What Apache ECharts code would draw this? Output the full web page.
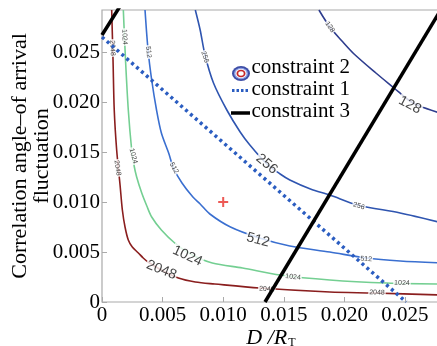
<!DOCTYPE html>
<html>
<head>
<meta charset="utf-8">
<script src="https://cdn.jsdelivr.net/npm/echarts@6/dist/echarts.min.js"></script>
<style>
html,body{margin:0;padding:0;background:#fff;}
#chart{width:437px;height:346px;}
</style>
</head>
<body>
<div id="chart"></div>
<script>
// contour lines, points are [D/R_T, angle]
var c128 = [[0.0179,0.0292],[0.0188,0.0275],[0.0198,0.0261],[0.0208,0.0248],[0.0226,0.0229],[0.0241,0.0214],[0.0254,0.0201],[0.0262,0.0196],[0.0281,0.0188]];
var c256 = [[0.0077,0.0292],[0.0081,0.0272],[0.0085,0.0247],[0.0092,0.0219],[0.0103,0.0192],[0.0114,0.0170],[0.0122,0.0157],[0.0136,0.0138],[0.0147,0.0128],[0.0155,0.0122],[0.0172,0.0113],[0.0188,0.0107],[0.0211,0.0097],[0.0246,0.0089],[0.0281,0.0079]];
var c512 = [[0.00355,0.0292],[0.0038,0.0252],[0.0041,0.0222],[0.0045,0.0192],[0.0049,0.0169],[0.0055,0.0149],[0.0059,0.0134],[0.0066,0.0119],[0.0075,0.0105],[0.0081,0.0098],[0.0089,0.0088],[0.0106,0.0075],[0.0130,0.0064],[0.0155,0.0056],[0.0188,0.0050],[0.0218,0.0044],[0.0246,0.0041],[0.0281,0.0039]];
var c1024 = [[0.00176,0.0292],[0.00194,0.0242],[0.00217,0.0192],[0.00245,0.0152],[0.00262,0.0138],[0.00286,0.0125],[0.00328,0.0109],[0.0037,0.0096],[0.0041,0.0085],[0.0049,0.0072],[0.0060,0.0059],[0.0073,0.0048],[0.0091,0.0039],[0.0116,0.0034],[0.0147,0.0027],[0.0188,0.0022],[0.0235,0.0019],[0.0281,0.0018]];
var c2048 = [[0.0008,0.0292],[0.00091,0.0242],[0.00101,0.0192],[0.00121,0.0152],[0.00149,0.0117],[0.00168,0.0092],[0.0019,0.0075],[0.00217,0.0062],[0.0025,0.0055],[0.0030,0.0049],[0.0034,0.0044],[0.0038,0.0040],[0.0049,0.0032],[0.0063,0.0024],[0.0077,0.0020],[0.0093,0.0018],[0.0130,0.0014],[0.0188,0.0010],[0.0224,0.0009],[0.0281,0.0007]];

// constraint lines
var constraint1 = [[0,0.0265],[0.0251,0]];
var constraint3 = [[0.01345,0],[0.0279,0.0291]];
var constraint3b = [[0,0.0267],[0.0015,0.0296]];
var target = [[0.010,0.010]];

// contour labels: [x, y, text]
var bigLabels = [[0.02541,0.0197,'128'],[0.01359,0.0138,'256'],[0.01287,0.0062,'512'],[0.00705,0.0046,'1024'],[0.00490,0.0032,'2048']];
var bigRot = [-28,-40,-15,-25,-22];
var smallLabels = [[0.00087,0.0254,'2048'],[0.00128,0.0134,'2048'],[0.00186,0.0265,'1024'],[0.00258,0.0146,'1024'],[0.00384,0.0250,'512'],[0.00594,0.0134,'512'],[0.0085,0.0245,'256'],[0.0188,0.0275,'128'],[0.0212,0.0096,'256'],[0.0218,0.0043,'512'],[0.01576,0.0025,'1024'],[0.02475,0.0019,'1024'],[0.0136,0.0013,'2048'],[0.02269,0.00095,'2048']];
var smallRot = [-88,-82,-87,-75,-84,-63,-72,-55,-15,-5,-6,-2,-4,-2];

var tickLabels = ['0','0.005','0.010','0.015','0.020','0.025'];

var chart = echarts.init(document.getElementById('chart'));

function tickFmt(v){
    var k = Math.round(v / 0.005);
    if (Math.abs(k * 0.005 - v) > 1e-9) return '';
    return tickLabels[k] || '';
}

function contour(data, color){
    return {
        type: 'line', data: data, showSymbol: false, smooth: 0.3, z: 2,
        lineStyle: {color: color, width: 1.6}, silent: true
    };
}

function labelSeries(list, rot, size){
    var items = [];
    for (var i = 0; i < list.length; i++){
        items.push({
            value: [list[i][0], list[i][1]],
            label: {rotate: rot[i], formatter: list[i][2]}
        });
    }
    return {
        type: 'scatter', data: items, symbol: 'circle', symbolSize: 1, z: 3, silent: true,
        itemStyle: {color: 'rgba(0,0,0,0)'},
        label: {
            show: true, position: 'inside', color: '#111', fontSize: size,
            fontFamily: 'Liberation Sans', backgroundColor: '#fff', padding: [0, 1]
        }
    };
}

var serif = 'Liberation Serif';

var option = {
    animation: false,
    backgroundColor: '#fff',
    grid: {
        left: 102, top: 10, right: -3, bottom: 44, containLabel: false, outerBoundsMode: 'none',
        show: true, borderColor: '#aaa', borderWidth: 1.2
    },
    xAxis: {
        type: 'value', min: 0, max: 0.02789, interval: 0.005,
        axisLine: {show: false},
        axisTick: {inside: true, length: 5, lineStyle: {color: '#aaa'}},
        splitLine: {show: false},
        axisLabel: {formatter: tickFmt, color: '#000', fontFamily: serif, fontSize: 21, margin: 3, showMaxLabel: false},
        name: '{i|D /R}{s|T}', nameLocation: 'middle', nameGap: 25, nameMoveOverlap: false,
        nameTextStyle: {
            rich: {
                i: {fontFamily: serif, fontStyle: 'italic', fontSize: 22, color: '#000'},
                s: {fontFamily: serif, fontSize: 12, color: '#000', padding: [10, 0, 0, 1]}
            }
        }
    },
    yAxis: {
        type: 'value', min: 0, max: 0.0292, interval: 0.005,
        axisLine: {show: false},
        axisTick: {inside: true, length: 5, lineStyle: {color: '#aaa'}},
        splitLine: {show: false},
        axisLabel: {formatter: tickFmt, color: '#000', fontFamily: serif, fontSize: 21, margin: 2, showMaxLabel: false},
        name: 'Correlation angle\u2013of arrival\nfluctuation', nameLocation: 'middle', nameGap: 49,
        nameRotate: 90, nameMoveOverlap: false,
        nameTextStyle: {fontFamily: serif, fontSize: 22, color: '#000', lineHeight: 22}
    },
    graphic: [
        // legend: constraint 2 icon
        {type: 'circle', x: 241, y: 73.5, scaleX: 1.2, shape: {r: 7.5}, style: {fill: '#3e4ea6'}, z: 10},
        {type: 'circle', x: 241, y: 73.5, scaleX: 1.2, shape: {r: 5.8}, style: {fill: '#8fa2e6'}, z: 10},
        {type: 'circle', x: 241, y: 73.5, scaleX: 1.2, shape: {r: 4.6}, style: {fill: '#fff'}, z: 10},
        {type: 'circle', x: 241, y: 73.5, scaleX: 1.2, shape: {r: 3.0}, style: {fill: '#fff', stroke: '#c4282a', lineWidth: 1.5}, z: 10},
        // constraint 1 / 3 icons
        {type: 'line', shape: {x1: 232, y1: 90.5, x2: 249, y2: 90.5}, style: {stroke: '#2b5dc1', lineWidth: 3, lineDash: [2.5, 2]}, z: 10},
        {type: 'line', shape: {x1: 231, y1: 113, x2: 250, y2: 113}, style: {stroke: '#000', lineWidth: 3.5}, z: 10},
        {type: 'text', x: 251.5, y: 67.5, style: {text: 'constraint 2', font: '21px "Liberation Serif"', fill: '#000', verticalAlign: 'middle'}, z: 10},
        {type: 'text', x: 251.5, y: 89.5, style: {text: 'constraint 1', font: '21px "Liberation Serif"', fill: '#000', verticalAlign: 'middle'}, z: 10},
        {type: 'text', x: 251.5, y: 111, style: {text: 'constraint 3', font: '21px "Liberation Serif"', fill: '#000', verticalAlign: 'middle'}, z: 10}
    ],
    series: [
        contour(c2048, '#8a1e1e'),
        contour(c1024, '#74cf92'),
        contour(c512, '#3a6fd0'),
        contour(c256, '#2f55b0'),
        contour(c128, '#2e3d8e'),
        labelSeries(smallLabels, smallRot, 7),
        labelSeries(bigLabels, bigRot, 14),
        {
            type: 'line', data: constraint1, showSymbol: false, z: 4, silent: true,
            lineStyle: {color: '#2b5dc1', width: 3.5, type: [3, 3.5]}
        },
        {
            type: 'line', data: constraint3, showSymbol: false, z: 4, silent: true,
            lineStyle: {color: '#000', width: 3.5}
        },
        {
            type: 'line', data: constraint3b, showSymbol: false, z: 4, silent: true,
            lineStyle: {color: '#000', width: 3.5}
        },
        {
            type: 'scatter', data: target, z: 5, silent: true,
            symbol: 'path://M4,0h2v10h-2zM0,4h10v2h-10z', symbolSize: 10,
            itemStyle: {color: '#e8302a'}
        }
    ]
};

chart.setOption(option);
</script>
</body>
</html>
